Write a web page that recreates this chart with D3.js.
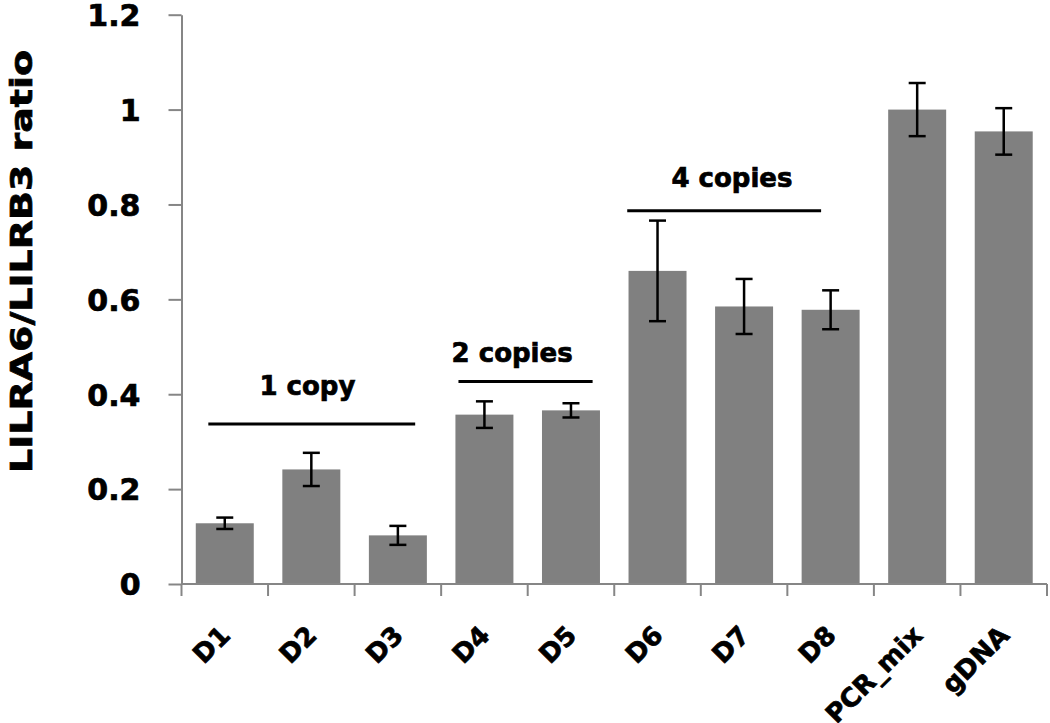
<!DOCTYPE html>
<html>
<head>
<meta charset="utf-8">
<script src="https://cdn.jsdelivr.net/npm/d3@7"></script>
<style>
    body { margin: 0; background: #fff; }
    text { font-family: "DejaVu Sans", sans-serif; font-weight: bold; fill: #000; stroke: #000; stroke-width: 0.7px; }
</style>
</head>
<body>
<div id="canvas"></div>
<script>
// bar chart: LILRA6/LILRB3 ratio per sample
var categories = ["D1", "D2", "D3", "D4", "D5", "D6", "D7", "D8", "PCR_mix", "gDNA"];
var values = [0.128, 0.2415, 0.1025, 0.357, 0.366, 0.66, 0.585, 0.578, 1.0, 0.954];
var errors = [0.012, 0.035, 0.02, 0.028, 0.015, 0.106, 0.058, 0.041, 0.056, 0.049];
var yTicks = [0, 0.2, 0.4, 0.6, 0.8, 1, 1.2];

// copy-number groups: label, line start/end (in category index units), line level, label level
var groupLabels = ["1 copy", "2 copies", "4 copies"];
var groupStart = [-0.19, 2.70, 4.65];
var groupEnd = [2.20, 4.25, 6.89];
var groupLabelAt = [0.955, 3.32, 5.86];
var groupLine = [0.337, 0.427, 0.787];
var groupText = [0.398, 0.467, 0.836];

(function(){

    var svg = d3.select("#canvas").append("svg").attr("width", 1050).attr("height", 723);

    var x = d3.scaleBand().domain(categories).range([181.5, 1047]).paddingInner(0.33).paddingOuter(0.165);
    var y = d3.scaleLinear().domain([0, 1.2]).range([584, 14.7]);
    var step = x.step();
    function xIndex(f){ return 181.5 + step * (f + 0.5); }

    // bars
    svg.selectAll("rect.bar").data(values).enter().append("rect")
        .attr("class", "bar")
        .attr("x", function(d, i){ return x(categories[i]); })
        .attr("y", function(d){ return y(d); })
        .attr("width", x.bandwidth())
        .attr("height", function(d){ return y(0) - y(d); })
        .attr("fill", "#808080");

    // error bars
    var eb = svg.selectAll("g.err").data(values).enter().append("g").attr("class", "err")
        .attr("stroke", "#000").attr("stroke-width", 2.5);
    eb.append("line")
        .attr("x1", function(d, i){ return x(categories[i]) + x.bandwidth() / 2; })
        .attr("x2", function(d, i){ return x(categories[i]) + x.bandwidth() / 2; })
        .attr("y1", function(d, i){ return y(d + errors[i]); })
        .attr("y2", function(d, i){ return y(d - errors[i]); });
    [1, -1].forEach(function(s){
        eb.append("line")
            .attr("x1", function(d, i){ return x(categories[i]) + x.bandwidth() / 2 - 8.5; })
            .attr("x2", function(d, i){ return x(categories[i]) + x.bandwidth() / 2 + 8.5; })
            .attr("y1", function(d, i){ return y(d + s * errors[i]); })
            .attr("y2", function(d, i){ return y(d + s * errors[i]); });
    });

    // y axis
    var yAxis = svg.append("g").attr("transform", "translate(181.5,0)")
        .call(d3.axisLeft(y).tickValues(yTicks).tickSize(13).tickSizeOuter(0).tickPadding(28)
            .tickFormat(function(d){ return d3.format("~g")(d); }));
    yAxis.select(".domain").attr("stroke", "#868686").attr("stroke-width", 2);
    yAxis.selectAll(".tick line").attr("stroke", "#868686").attr("stroke-width", 2);
    yAxis.selectAll(".tick text")
        .attr("font-family", "DejaVu Sans").attr("font-weight", "bold")
        .attr("font-size", 30).attr("fill", "#000").attr("dy", "0.36em");

    // x axis with ticks at band boundaries
    var xg = svg.append("g");
    xg.append("line").attr("x1", 181.5).attr("x2", 1047).attr("y1", y(0)).attr("y2", y(0))
        .attr("stroke", "#868686").attr("stroke-width", 2);
    var bounds = categories.map(function(c){ return x(c) - step * 0.165; }).concat([1047]);
    xg.selectAll("line.xt").data(bounds).enter().append("line").attr("class", "xt")
        .attr("x1", function(d){ return d; }).attr("x2", function(d){ return d; })
        .attr("y1", y(0)).attr("y2", y(0) + 12)
        .attr("stroke", "#868686").attr("stroke-width", 2);
    xg.selectAll("text").data(categories).enter().append("text")
        .attr("transform", function(d){ return "translate(" + (x(d) + x.bandwidth() / 2 + 7) + ",637) rotate(-45)"; })
        .attr("text-anchor", "end")
        .attr("font-size", 26)
        .text(function(d){ return d; });

    // y title
    svg.append("text")
        .attr("transform", "translate(32,261.5) rotate(-90)")
        .attr("text-anchor", "middle")
        .attr("font-size", 30)
        .attr("textLength", 423).attr("lengthAdjust", "spacingAndGlyphs")
        .text("LILRA6/LILRB3 ratio");

    // group annotations
    groupLabels.forEach(function(lab, i){
        svg.append("line")
            .attr("x1", xIndex(groupStart[i])).attr("x2", xIndex(groupEnd[i]))
            .attr("y1", y(groupLine[i])).attr("y2", y(groupLine[i]))
            .attr("stroke", "#000").attr("stroke-width", 3);
        svg.append("text")
            .attr("x", xIndex(groupLabelAt[i])).attr("y", y(groupText[i]))
            .attr("text-anchor", "middle")
            .attr("font-size", 26)
            .text(lab);
    });

})();
</script>
</body>
</html>
